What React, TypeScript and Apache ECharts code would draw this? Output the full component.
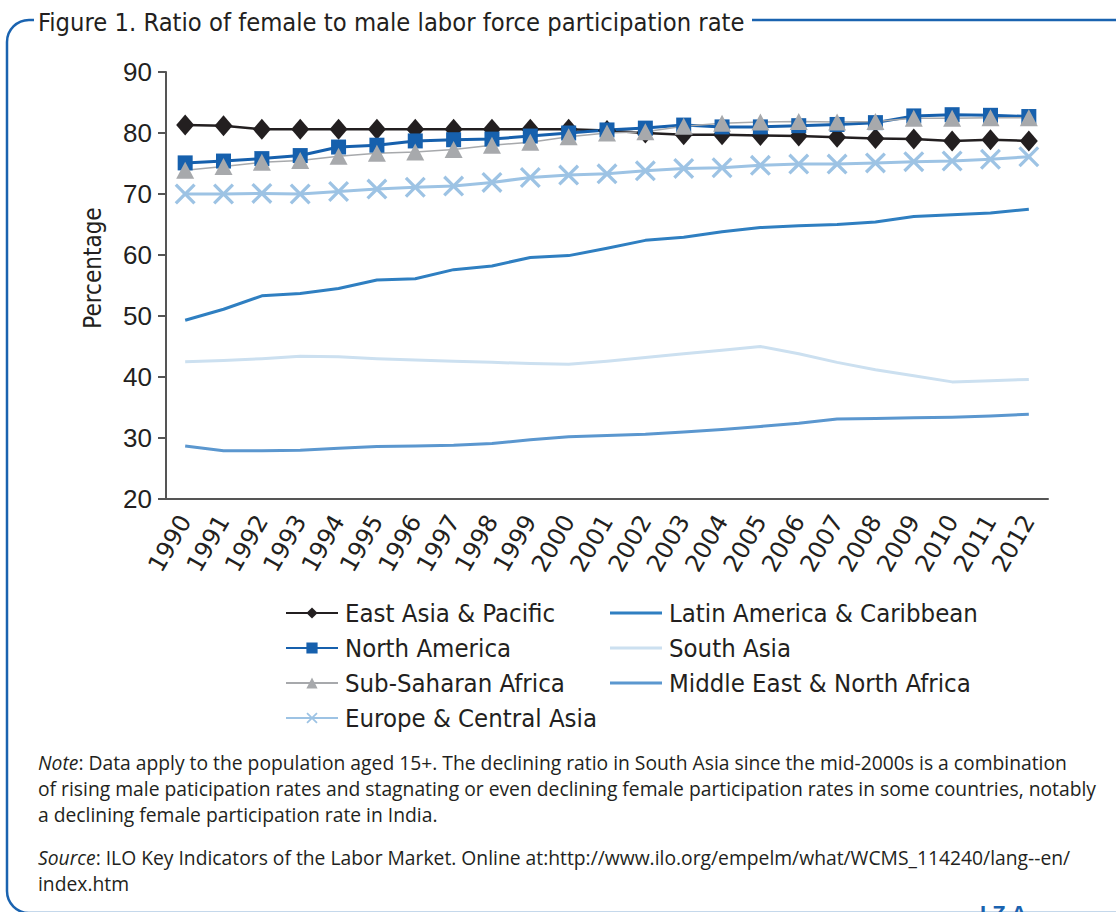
import React, { useEffect, useRef } from "react";
import * as echarts from "echarts";

const years = ["1990","1991","1992","1993","1994","1995","1996","1997","1998","1999","2000","2001","2002","2003","2004","2005","2006","2007","2008","2009","2010","2011","2012"];
const eastAsia = [81.3,81.2,80.6,80.6,80.6,80.6,80.6,80.6,80.6,80.6,80.6,80.4,80.0,79.7,79.7,79.6,79.5,79.3,79.1,79.0,78.7,78.9,78.7];
const northAmerica = [75.1,75.4,75.8,76.3,77.7,78.0,78.7,78.9,79.0,79.5,80.0,80.5,80.8,81.3,81.0,81.0,81.2,81.4,81.7,82.8,83.0,82.9,82.7];
const subSaharan = [73.9,74.5,75.2,75.5,76.2,76.7,76.9,77.3,78.0,78.5,79.4,80.0,80.2,81.1,81.6,81.8,81.9,81.8,81.9,82.4,82.4,82.5,82.5];
const europe = [70.0,70.0,70.1,70.0,70.4,70.8,71.1,71.3,71.9,72.7,73.1,73.3,73.8,74.2,74.3,74.7,74.9,74.9,75.1,75.3,75.4,75.7,76.1];
const latinAmerica = [49.3,51.1,53.3,53.7,54.5,55.9,56.1,57.6,58.2,59.6,59.9,61.1,62.4,62.9,63.8,64.5,64.8,65.0,65.4,66.3,66.6,66.9,67.5];
const southAsia = [42.5,42.7,43.0,43.4,43.3,43.0,42.8,42.6,42.4,42.2,42.1,42.6,43.2,43.8,44.4,45.0,43.8,42.4,41.2,40.2,39.2,39.4,39.6];
const mena = [28.7,27.9,27.9,28.0,28.3,28.6,28.7,28.8,29.1,29.7,30.2,30.4,30.6,31.0,31.4,31.9,32.4,33.1,33.2,33.3,33.4,33.6,33.9];

const titleText = "Figure 1. Ratio of female to male labor force participation rate";
const yAxisTitle = "Percentage";
const legendCol1 = ["East Asia & Pacific", "North America", "Sub-Saharan Africa", "Europe & Central Asia"];
const legendCol2 = ["Latin America & Caribbean", "South Asia", "Middle East & North Africa"];
const noteLines = [
  "{i|Note}: Data apply to the population aged 15+. The declining ratio in South Asia since the mid-2000s is a combination",
  "of rising male paticipation rates and stagnating or even declining female participation rates in some countries, notably",
  "a declining female participation rate in India.",
];
const sourceLines = [
  "{i|Source}: ILO Key Indicators of the Labor Market. Online at:http://www.ilo.org/empelm/what/WCMS_114240/lang--en/",
  "index.htm",
];

const NARROW = "'Liberation Sans Narrow', 'DejaVu Sans Condensed', 'Arial Narrow', sans-serif";
const NOTE_FONT = "'Open Sans', sans-serif";
const NOTE_SIZE = 19.3;
const TXT = "#231f20";
const FRAME = "#1a63b0";
const CROSS = "path://M0,1.1L1.1,0L5,3.9L8.9,0L10,1.1L6.1,5L10,8.9L8.9,10L5,6.1L1.1,10L0,8.9L3.9,5Z";
const LINE_ICON = "path://M0,0L52,0L52,3L0,3Z";

export default function App() {
  const ref = useRef<HTMLDivElement>(null);
  useEffect(() => {
    if (!ref.current) return;
    const chart = echarts.init(ref.current, null, { renderer: "svg" });
    const mk = (name: string, data: number[], color: string, width: number, symbol: string, size: any) => ({
      name,
      type: "line",
      data,
      symbol,
      symbolSize: size,
      showSymbol: symbol !== "none",
      lineStyle: { color, width, join: "round" },
      itemStyle: { color, borderWidth: 0 },
      emphasis: { disabled: true },
    });
    const legendText = { fontFamily: NARROW, fontSize: 25.5, color: TXT, padding: [0, 0, 0, 2] };
    const plain = new Set(legendCol2);
    const legendData = (names: string[]) =>
      names.map((n) => (plain.has(n) ? { name: n, icon: LINE_ICON } : { name: n }));
    const rich = { i: { fontStyle: "italic", fontFamily: NOTE_FONT, fontSize: NOTE_SIZE, fill: TXT, lineHeight: 26 } };
    const legendBase = {
      orient: "vertical",
      top: 595,
      itemWidth: 52,
      itemHeight: 14,
      itemGap: 9,
      textStyle: legendText,
    };
    chart.setOption({
      animation: false,
      backgroundColor: "#fff",
      grid: { left: 166, right: 68, top: 72, bottom: 413 },
      xAxis: {
        type: "category",
        data: years,
        boundaryGap: true,
        axisLine: { lineStyle: { color: "#555", width: 2 } },
        axisTick: { length: 8, lineStyle: { color: "#555", width: 2 } },
        axisLabel: { rotate: 60, fontFamily: "'DejaVu Sans', sans-serif", fontSize: 24, color: TXT, margin: 18, interval: 0 },
        splitLine: { show: false },
      },
      yAxis: {
        type: "value",
        min: 20,
        max: 90,
        interval: 10,
        axisLine: { show: true, lineStyle: { color: "#555", width: 2 } },
        axisTick: { show: true, length: 8, lineStyle: { color: "#555", width: 2 } },
        axisLabel: { fontFamily: "'Liberation Sans', Arial, sans-serif", fontSize: 26, color: TXT, margin: 14 },
        splitLine: { show: false },
      },
      legend: [
        { ...legendBase, left: 280, data: legendData(legendCol1) },
        { ...legendBase, left: 605, data: legendData(legendCol2) },
      ],
      series: [
        mk("Latin America & Caribbean", latinAmerica, "#2f7fc1", 3, "none", 0),
        mk("South Asia", southAsia, "#cce0f0", 3, "none", 0),
        mk("Middle East & North Africa", mena, "#5b97cf", 3, "none", 0),
        mk("East Asia & Pacific", eastAsia, "#231f20", 2.5, "diamond", [18, 21]),
        mk("North America", northAmerica, "#1660ad", 3, "rect", 15),
        mk("Sub-Saharan Africa", subSaharan, "#a7a9ac", 1.5, "triangle", [18, 17]),
        mk("Europe & Central Asia", europe, "#9dc3e4", 3, CROSS, 21),
      ],
      graphic: [
        {
          type: "rect",
          silent: true,
          shape: { x: 7, y: 20, width: 1200, height: 893, r: [22, 0, 0, 22] },
          style: { fill: "none", stroke: FRAME, lineWidth: 2.5 },
        },
        {
          type: "rect",
          silent: true,
          shape: { x: 34, y: 5, width: 718, height: 32 },
          style: { fill: "#fff" },
        },
        {
          type: "text",
          silent: true,
          x: 38,
          y: 22,
          style: { text: titleText, fontFamily: NARROW, fontSize: 25.3, fill: TXT, verticalAlign: "middle" },
        },
        {
          type: "text",
          silent: true,
          x: 93,
          y: 268,
          rotation: Math.PI / 2,
          style: { text: yAxisTitle, fontFamily: NARROW, fontSize: 24, fill: TXT, align: "center", verticalAlign: "middle" },
        },
        {
          type: "text",
          silent: true,
          x: 38,
          y: 749,
          style: { text: noteLines.join("\n"), fontFamily: NOTE_FONT, fontSize: NOTE_SIZE, lineHeight: 26, fill: TXT, rich },
        },
        {
          type: "text",
          silent: true,
          x: 38,
          y: 844,
          style: { text: sourceLines.join("\n"), fontFamily: NOTE_FONT, fontSize: NOTE_SIZE, lineHeight: 26, fill: TXT, rich },
        },
        {
          type: "text",
          silent: true,
          x: 980,
          y: 902,
          style: { text: "I Z A", fontFamily: "'Liberation Sans', sans-serif", fontWeight: "bold", fontSize: 22, fill: FRAME },
        },
      ],
    });
    return () => chart.dispose();
  }, []);
  return <div ref={ref} style={{ position: "fixed", left: 0, top: 0, width: 1116, height: 912 }} />;
}
